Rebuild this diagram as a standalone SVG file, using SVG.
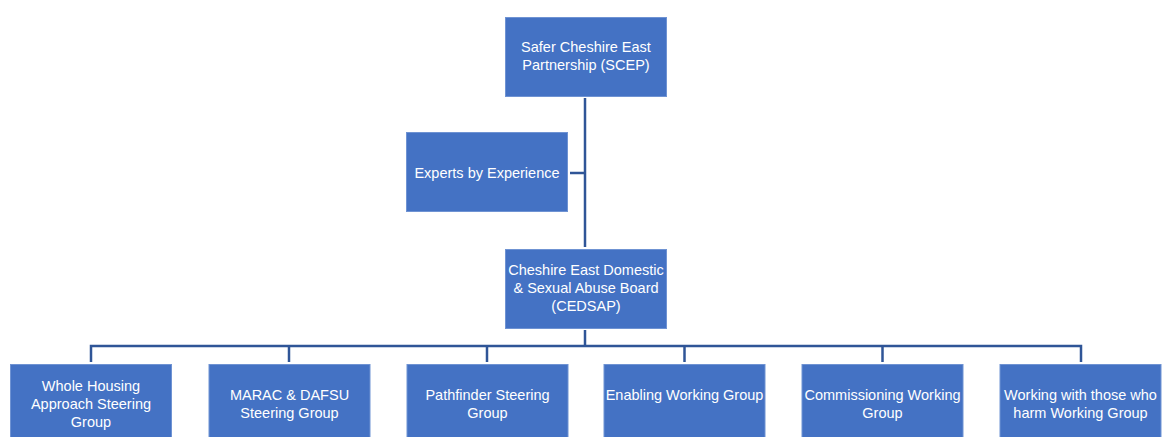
<svg xmlns="http://www.w3.org/2000/svg" width="1162" height="437" viewBox="0 0 1162 437">
<style>
.box{fill:#4472C4;stroke:#6F93D3;stroke-width:1}
.t{font-family:"Liberation Sans",Arial,sans-serif;font-size:14.5px;fill:#FFFFFF;text-anchor:middle}
.c{stroke:#2F5597;stroke-width:2.5;fill:none}
</style>
<rect width="1162" height="437" fill="#FFFFFF"/>
<g id="connectors">
<line class="c" x1="585" y1="98" x2="585" y2="247"/>
<line class="c" x1="570" y1="173" x2="585" y2="173"/>
<line class="c" x1="585" y1="330" x2="585" y2="346"/>
<polyline class="c" points="91,362 91,346 1081,346 1081,362"/>
<line class="c" x1="289" y1="346" x2="289" y2="362"/>
<line class="c" x1="487" y1="346" x2="487" y2="362"/>
<line class="c" x1="684.5" y1="346" x2="684.5" y2="362"/>
<line class="c" x1="882.5" y1="346" x2="882.5" y2="362"/>
</g>
<g id="scep">
<rect class="box" x="505.5" y="17.5" width="161" height="79"/>
<text class="t" x="586" y="52">Safer Cheshire East</text>
<text class="t" x="586" y="70">Partnership (SCEP)</text>
</g>
<g id="experts">
<rect class="box" x="406.5" y="132.5" width="161" height="79"/>
<text class="t" x="487" y="178">Experts by Experience</text>
</g>
<g id="cedsap">
<rect class="box" x="505.5" y="249.5" width="161" height="79"/>
<text class="t" x="586" y="275">Cheshire East Domestic</text>
<text class="t" x="586" y="293">&amp; Sexual Abuse Board</text>
<text class="t" x="586" y="311">(CEDSAP)</text>
</g>
<g id="whole-housing">
<rect class="box" x="10.5" y="364.5" width="161" height="79"/>
<text class="t" x="91" y="391">Whole Housing</text>
<text class="t" x="91" y="409">Approach Steering</text>
<text class="t" x="91" y="427">Group</text>
</g>
<g id="marac">
<rect class="box" x="209" y="364.5" width="161" height="79"/>
<text class="t" x="289.5" y="400">MARAC &amp; DAFSU</text>
<text class="t" x="289.5" y="418">Steering Group</text>
</g>
<g id="pathfinder">
<rect class="box" x="407" y="364.5" width="161" height="79"/>
<text class="t" x="487.5" y="400">Pathfinder Steering</text>
<text class="t" x="487.5" y="418">Group</text>
</g>
<g id="enabling">
<rect class="box" x="604" y="364.5" width="161" height="79"/>
<text class="t" x="684.5" y="400">Enabling Working Group</text>
</g>
<g id="commissioning">
<rect class="box" x="802" y="364.5" width="161" height="79"/>
<text class="t" x="882.5" y="400">Commissioning Working</text>
<text class="t" x="882.5" y="418">Group</text>
</g>
<g id="working-with">
<rect class="box" x="1000" y="364.5" width="161" height="79"/>
<text class="t" x="1080.5" y="400">Working with those who</text>
<text class="t" x="1080.5" y="418">harm Working Group</text>
</g>
</svg>
